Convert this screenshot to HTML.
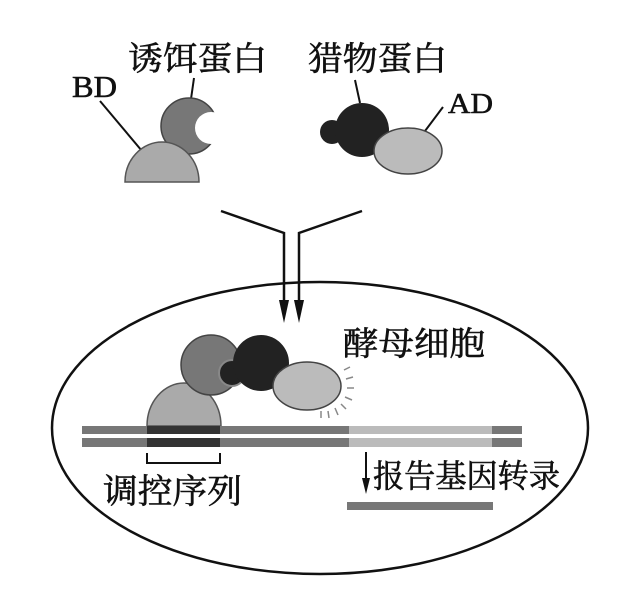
<!DOCTYPE html>
<html><head><meta charset="utf-8"><style>
html,body{margin:0;padding:0;background:#fff;width:638px;height:608px;overflow:hidden}
text{font-family:"Liberation Serif","Noto Serif CJK SC",serif;fill:#111;stroke:#111;stroke-width:0.6}
</style></head><body>
<svg width="638" height="608" viewBox="0 0 638 608" xmlns="http://www.w3.org/2000/svg">
<defs><mask id="cm"><rect width="638" height="608" fill="#fff"/><circle cx="211" cy="128" r="16" fill="#000"/></mask></defs>
<text x="128" y="70" font-size="33" textLength="139" lengthAdjust="spacingAndGlyphs">诱饵蛋白</text>
<text x="308" y="70" font-size="33" textLength="139" lengthAdjust="spacingAndGlyphs">猎物蛋白</text>
<text x="72" y="97" font-size="31" textLength="45" lengthAdjust="spacingAndGlyphs">BD</text>
<text x="448" y="113" font-size="29" textLength="45" lengthAdjust="spacingAndGlyphs">AD</text>
<line x1="100" y1="101" x2="142" y2="151" stroke="#111" stroke-width="2"/>
<line x1="194" y1="78" x2="191" y2="99" stroke="#111" stroke-width="2"/>
<line x1="355" y1="80" x2="360" y2="103" stroke="#111" stroke-width="2"/>
<line x1="443" y1="107" x2="425" y2="131" stroke="#111" stroke-width="2"/>
<circle cx="189" cy="126" r="28" fill="#777" stroke="#444" stroke-width="1.5" mask="url(#cm)"/>
<path d="M125 182 A37 40 0 0 1 199 182 Z" fill="#aaa" stroke="#555" stroke-width="1.5"/>
<circle cx="332" cy="132" r="12" fill="#222"/>
<circle cx="362" cy="130" r="27" fill="#222"/>
<ellipse cx="408" cy="151" rx="34" ry="23" fill="#bbb" stroke="#444" stroke-width="1.5"/>
<polyline points="221,211 284,233 284,305" fill="none" stroke="#111" stroke-width="2.5"/>
<polyline points="362,211 299,233 299,305" fill="none" stroke="#111" stroke-width="2.5"/>
<polygon points="279,300 289,300 284,323" fill="#111"/>
<polygon points="294,300 304,300 299,323" fill="#111"/>
<ellipse cx="320" cy="428" rx="268" ry="146" fill="none" stroke="#111" stroke-width="2.5"/>
<text x="343" y="355" font-size="33" textLength="142" lengthAdjust="spacingAndGlyphs">酵母细胞</text>
<path d="M147 426 A37 43 0 0 1 221 426 Z" fill="#aaa" stroke="#555" stroke-width="1.5"/>
<circle cx="211" cy="365" r="30" fill="#777" stroke="#444" stroke-width="1.5"/>
<circle cx="232" cy="373" r="13" fill="#222" stroke="#888" stroke-width="2"/>
<circle cx="261" cy="363" r="28" fill="#222"/>
<ellipse cx="307" cy="386" rx="34" ry="24" fill="#bbb" stroke="#444" stroke-width="1.5"/>
<g stroke="#888" stroke-width="1.5">
<line x1="344" y1="370" x2="350" y2="367"/><line x1="346" y1="379" x2="353" y2="377"/>
<line x1="347" y1="388" x2="354" y2="388"/><line x1="345" y1="397" x2="352" y2="400"/>
<line x1="341" y1="404" x2="346" y2="409"/><line x1="335" y1="408" x2="338" y2="415"/>
<line x1="328" y1="411" x2="329" y2="418"/><line x1="321" y1="411" x2="321" y2="418"/>
</g>
<rect x="82" y="426" width="440" height="8" fill="#777"/>
<rect x="82" y="438" width="440" height="9" fill="#777"/>
<rect x="147" y="426" width="73" height="8" fill="#333"/>
<rect x="147" y="438" width="73" height="9" fill="#333"/>
<rect x="349" y="426" width="143" height="8" fill="#bbb"/>
<rect x="349" y="438" width="143" height="9" fill="#bbb"/>
<polyline points="147,453 147,463 220,463 220,453" fill="none" stroke="#111" stroke-width="2"/>
<text x="103" y="503" font-size="34" textLength="139" lengthAdjust="spacingAndGlyphs">调控序列</text>
<line x1="366" y1="452" x2="366" y2="480" stroke="#111" stroke-width="2"/>
<polygon points="362,478 370,478 366,494" fill="#111"/>
<text x="373" y="487" font-size="32" textLength="187" lengthAdjust="spacingAndGlyphs">报告基因转录</text>
<rect x="347" y="502" width="146" height="8" fill="#777"/>
</svg>
</body></html>
